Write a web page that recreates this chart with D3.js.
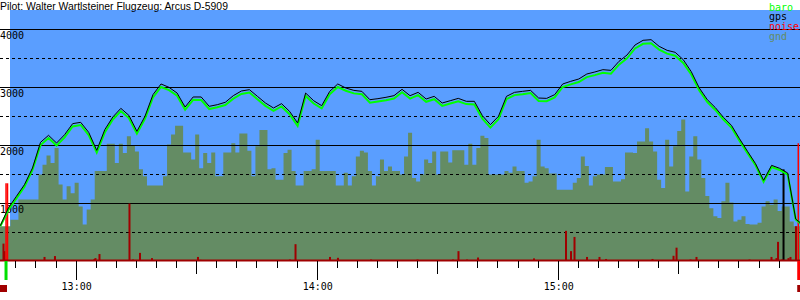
<!DOCTYPE html>
<html>
<head>
<meta charset="utf-8">
<script src="https://d3js.org/d3.v7.min.js"></script>
<style>
  body { margin: 0; background: #fff; }
  svg { display: block; }
  text { font-family: "DejaVu Sans Mono", monospace; font-size: 10px; }
  .title { font-family: "Liberation Sans", Arial, sans-serif; font-size: 10.4px; }
</style>
</head>
<body>
<svg width="800" height="300"></svg>
<script>
// barogram, 12:41 - 16:00
var title = "Pilot: Walter Wartlsteiner Flugzeug: Arcus D-5909";

// altitude lines, one sample every 2 minutes from 12:41
var lineStart = "12:41:00";
var gps = [609, 914, 1115, 1316, 1603, 2046, 2167, 2034, 2178, 2368,
  2391, 2218, 1908, 2264, 2483, 2632, 2511, 2236, 2494, 2868,
  3052, 2994, 2896, 2655, 2828, 2828, 2667, 2695, 2736, 2851,
  2931, 2954, 2839, 2724, 2638, 2713, 2580, 2380, 2896, 2764,
  2678, 2925, 3052, 2983, 2942, 2925, 2781, 2799, 2822, 2851,
  2960, 2850, 2908, 2793, 2839, 2724, 2764, 2804, 2753, 2753,
  2506, 2351, 2494, 2839, 2908, 2925, 2942, 2810, 2804, 2868,
  3052, 3098, 3138, 3224, 3259, 3299, 3287, 3442, 3551, 3724,
  3805, 3816, 3701, 3632, 3598, 3471, 3264, 2983, 2781, 2644,
  2477, 2339, 2109, 1891, 1678, 1391, 1649, 1598, 1517, 724, 609];
var baro = [600, 880, 1080, 1280, 1570, 2000, 2120, 1990, 2130, 2320,
  2345, 2170, 1870, 2215, 2440, 2585, 2465, 2195, 2450, 2820,
  3000, 2945, 2850, 2610, 2780, 2775, 2620, 2650, 2690, 2800,
  2880, 2905, 2790, 2675, 2590, 2665, 2530, 2330, 2845, 2715,
  2630, 2875, 3000, 2935, 2890, 2875, 2730, 2750, 2770, 2800,
  2910, 2800, 2860, 2745, 2790, 2675, 2715, 2755, 2705, 2700,
  2455, 2300, 2445, 2790, 2860, 2875, 2895, 2760, 2755, 2820,
  3000, 3045, 3085, 3170, 3205, 3245, 3230, 3385, 3495, 3665,
  3745, 3755, 3645, 3575, 3540, 3415, 3215, 2940, 2740, 2605,
  2440, 2300, 2075, 1860, 1650, 1365, 1620, 1570, 1490, 715, 600];

// terrain below the track, one value per minute from 12:40:30
var gndStart = "12:40:30";
var gnd = [600, 600, 600, 710, 710, 1060, 1060, 1060, 1060, 1060,
  1490, 1660, 1820, 1690, 1950, 1320, 1060, 1290, 1170, 1350,
  940, 630, 890, 1060, 1550, 1550, 1550, 2020, 2020, 1690,
  2020, 1860, 2150, 1990, 1890, 1580, 1460, 1300, 1300, 1300,
  1300, 1460, 2010, 2180, 2330, 2330, 1870, 1870, 1750, 2180,
  1600, 1860, 1690, 1870, 1460, 1460, 1870, 1870, 2030, 1870,
  2200, 2200, 1900, 1460, 1980, 2260, 2260, 1580, 1600, 1400,
  1400, 1860, 1920, 1550, 1300, 1300, 1550, 1550, 1580, 2090,
  1550, 1550, 1550, 1550, 1300, 1300, 1520, 1300, 1460, 1800,
  1900, 1870, 1550, 1300, 1460, 1750, 1550, 1630, 1550, 1550,
  1490, 1800, 2210, 1430, 1370, 1490, 1750, 1690, 1890, 1490,
  1890, 1890, 1700, 1910, 1910, 1910, 1660, 2020, 1660, 1950,
  2160, 2120, 1490, 1490, 1490, 1490, 1550, 1520, 1630, 1550,
  1550, 1350, 1370, 1460, 2090, 1630, 1600, 1510, 1510, 1230,
  1230, 1230, 1230, 1350, 1430, 1800, 1640, 1300, 1460, 1490,
  1490, 1620, 1620, 1370, 1370, 1410, 1870, 1870, 1860, 2060,
  2060, 2290, 2060, 1890, 1400, 1260, 2090, 1630, 1980, 2240,
  2440, 1200, 1800, 2150, 1750, 1430, 1120, 910, 770, 740,
  1030, 1350, 1010, 680, 710, 770, 640, 630, 630, 660,
  940, 1030, 970, 1060, 860, 940, 940, 680, 600, 600, 600];

// engine noise level samples
var noiseTime = ["12:41:47", "12:42:02", "12:42:29", "12:42:51", "12:52:00", "12:54:36",
  "13:04:26", "13:04:41", "13:05:41", "13:13:09", "13:14:02", "13:15:46", "13:18:45",
  "13:30:12", "13:30:50", "13:53:06", "13:54:29", "14:03:04", "14:05:03", "14:13:17",
  "14:24:51", "14:33:41", "14:35:03", "14:37:11", "14:39:55", "14:53:51", "15:01:49",
  "15:03:04", "15:03:56", "15:07:03", "15:10:09", "15:11:47", "15:23:21", "15:28:35",
  "15:29:20", "15:32:49", "15:34:18", "15:47:30", "15:52:58", "15:54:13", "15:54:36",
  "15:55:35", "15:57:12", "15:57:42", "15:59:04", "15:59:42"];
var noise = [300, 170, 1340, 1340, 70, 85,
  35, 50, 120, 990, 25, 140, 50,
  70, 20, 25, 290, 70, 55, 25,
  25, 25, 170, 25, 60, 45, 520,
  170, 415, 70, 70, 35, 35, 90,
  230, 25, 70, 25, 70, 50, 330,
  25, 50, 70, 600, 2030];
var noiseLimit = 1000;

// gps dropout
var gpsDropTime = ["15:55:58"];
var gpsDropAlt = [1580];

// takeoff / landing
var flightTimes = ["12:42:25", "15:59:45"];
var flightColors = ["#00e000", "#ff0000"];

var solidLevels = [1000, 2000, 3000, 4000];
var dashedLevels = [500, 1500, 2500, 3500];
var legendNames = ["baro", "gps", "noise", "gnd"];
var legendColors = ["#00ff00", "#000000", "#ff0000", "#648c64"];

var width = 800, height = 300;
var plotLeft = 10, plotTop = 10, plotBottom = 261;

var parse = d3.timeParse("%H:%M:%S");
var svg = d3.select("svg");

var x = d3.scaleTime()
  .domain([parse("12:40:55"), parse("16:00:04")])
  .range([0, width]);
var y = d3.scaleLinear()
  .domain([0, 4000])
  .range([plotBottom, 29]);

var t0 = parse(lineStart), g0 = parse(gndStart);
var lineTime = (d, i) => d3.timeMinute.offset(t0, i * 2);
var gndTime = (d, i) => d3.timeMinute.offset(g0, i);

svg.append("rect")
  .attr("x", plotLeft)
  .attr("y", plotTop)
  .attr("width", width - plotLeft)
  .attr("height", plotBottom - plotTop)
  .attr("fill", "#5a9eff");

// terrain
svg.append("path")
  .datum(gnd)
  .attr("fill", "#648c64")
  .attr("d", d3.area()
    .curve(d3.curveStepAfter)
    .x((d, i) => x(gndTime(d, i)))
    .y0(y(0))
    .y1(d => y(d)));

// grid
svg.selectAll(".solid")
  .data(solidLevels)
  .enter().append("line")
  .attr("x1", 0).attr("x2", width)
  .attr("y1", d => Math.round(y(d)) + 0.5)
  .attr("y2", d => Math.round(y(d)) + 0.5)
  .attr("stroke", "#000");
svg.selectAll(".dashed")
  .data(dashedLevels)
  .enter().append("line")
  .attr("x1", 0).attr("x2", width)
  .attr("y1", d => Math.round(y(d)) + 0.5)
  .attr("y2", d => Math.round(y(d)) + 0.5)
  .attr("stroke", "#000")
  .attr("stroke-dasharray", "3,3");

svg.selectAll(".ylab")
  .data(solidLevels)
  .enter().append("text")
  .attr("x", 0)
  .attr("y", d => y(d) + 10)
  .text(d => d);

// noise bars
svg.selectAll(".noise")
  .data(noise)
  .enter().append("rect")
  .attr("x", (d, i) => x(parse(noiseTime[i])) - 1)
  .attr("y", d => y(d))
  .attr("width", d => d > noiseLimit ? 1.5 : 2)
  .attr("height", d => y(0) - y(d))
  .attr("fill", d => d > noiseLimit ? "#ff0000" : "#a00000");

// gps dropout
svg.selectAll(".drop")
  .data(gpsDropAlt)
  .enter().append("line")
  .attr("x1", (d, i) => x(parse(gpsDropTime[i])))
  .attr("x2", (d, i) => x(parse(gpsDropTime[i])))
  .attr("y1", d => y(d))
  .attr("y2", y(0))
  .attr("stroke", "#000")
  .attr("stroke-width", 2);

// baseline
svg.append("line")
  .attr("x1", 0).attr("x2", width)
  .attr("y1", y(0) - 0.5).attr("y2", y(0) - 0.5)
  .attr("stroke", "#a00000")
  .attr("stroke-width", 2);

// altitude lines
var line = d3.line()
  .x((d, i) => x(lineTime(d, i)))
  .y(d => y(d));
svg.append("path")
  .datum(baro)
  .attr("fill", "none")
  .attr("stroke", "#00ff00")
  .attr("stroke-width", 2)
  .attr("d", line);
svg.append("path")
  .datum(gps)
  .attr("fill", "none")
  .attr("stroke", "#000")
  .attr("stroke-width", 1)
  .attr("d", line);

// time axis
var ticks = d3.timeMinute.every(5).range(parse("12:45:00"), parse("16:00:00"));
svg.selectAll(".tick")
  .data(ticks)
  .enter().append("line")
  .attr("x1", d => Math.round(x(d)) - 0.5)
  .attr("x2", d => Math.round(x(d)) - 0.5)
  .attr("y1", plotBottom)
  .attr("y2", d => plotBottom + (d.getMinutes() === 0 ? 19 : d.getMinutes() === 30 ? 13 : 7))
  .attr("stroke", "#000");
svg.selectAll(".xlab")
  .data(ticks.filter(d => d.getMinutes() === 0))
  .enter().append("text")
  .attr("x", d => x(d))
  .attr("y", 290)
  .attr("text-anchor", "middle")
  .text(d3.timeFormat("%H:%M"));

// takeoff / landing markers
svg.selectAll(".flag")
  .data(flightTimes)
  .enter().append("rect")
  .attr("x", d => x(parse(d)) - 1.5)
  .attr("y", plotBottom)
  .attr("width", 3)
  .attr("height", 19)
  .attr("fill", (d, i) => flightColors[i]);
svg.selectAll(".mark")
  .data(flightTimes)
  .enter().append("rect")
  .attr("x", (d, i) => i === 0 ? 0 : x(parse(d)) - 1.5)
  .attr("y", 285)
  .attr("width", 7)
  .attr("height", 7)
  .attr("fill", "#a00000");

svg.append("text")
  .attr("class", "title")
  .attr("x", 0)
  .attr("y", 10)
  .text(title);

// legend
svg.selectAll(".legend")
  .data(legendNames)
  .enter().append("text")
  .attr("x", 769)
  .attr("y", (d, i) => 10.5 + i * 9.7)
  .attr("fill", (d, i) => legendColors[i])
  .text(d => d);
</script>
</body>
</html>
